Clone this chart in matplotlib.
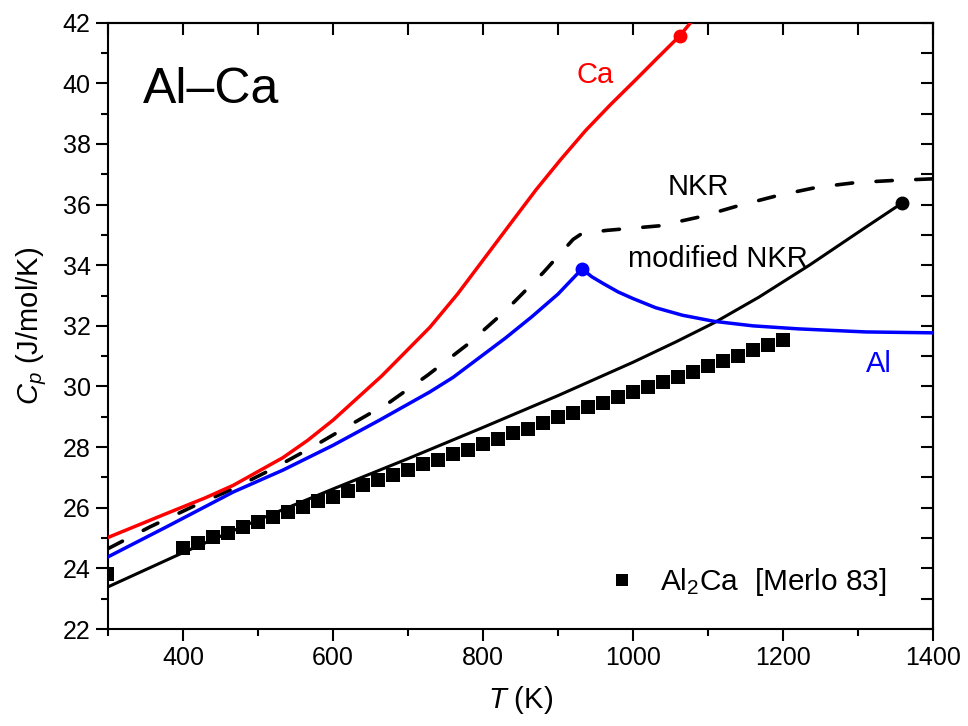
import numpy as np
import matplotlib.pyplot as plt

plt.rcParams['font.family'] = ['Liberation Sans', 'DejaVu Sans']
plt.rcParams['mathtext.fontset'] = 'custom'
plt.rcParams['mathtext.rm'] = 'Liberation Sans'
plt.rcParams['mathtext.it'] = 'Liberation Sans:italic'

# Ca
T_ca = [300, 378, 430, 467, 533, 566, 600, 665, 729, 766, 804, 838, 871, 904, 937, 970,
        1004, 1033, 1062, 1080]
cp_ca = [25.02, 25.81, 26.33, 26.74, 27.65, 28.22, 28.89, 30.35, 31.95, 33.05, 34.3, 35.42,
         36.5, 37.5, 38.45, 39.3, 40.13, 40.85, 41.56, 42.1]

# Al
T_al = [300, 378, 467, 533, 600, 662, 729, 760, 795, 830, 865, 900, 932, 945, 960, 980,
        1000, 1030, 1066, 1108, 1160, 1221, 1310, 1400]
cp_al = [24.38, 25.37, 26.52, 27.24, 28.06, 28.89, 29.82, 30.3, 30.95, 31.6, 32.3, 33.05,
         33.88, 33.62, 33.4, 33.12, 32.9, 32.6, 32.35, 32.15, 32.0, 31.9, 31.8, 31.77]

# NKR (dashed)
T_nkr = [300, 356, 414, 467, 520, 573, 622, 676, 726, 780, 830, 880, 920, 932, 965, 1035,
         1090, 1140, 1193, 1245, 1298, 1350, 1400]
cp_nkr = [24.65, 25.37, 26.05, 26.63, 27.29, 28.01, 28.72, 29.49, 30.37, 31.4, 32.5, 33.75,
          34.85, 35.05, 35.15, 35.3, 35.6, 35.96, 36.3, 36.57, 36.73, 36.8, 36.85]

# modified NKR (solid black)
T_mod = [300, 400, 500, 600, 700, 800, 900, 1000, 1057, 1108, 1168, 1235, 1310, 1358]
cp_mod = [23.39, 24.52, 25.6, 26.62, 27.62, 28.65, 29.7, 30.8, 31.47, 32.1, 32.95, 34.0,
          35.25, 36.04]

# Al2Ca [Merlo 83]
T_exp = [298] + list(np.arange(400, 1201, 20))
cp_exp = [23.8,
          24.67, 24.84, 25.02, 25.18, 25.37, 25.53, 25.70, 25.86, 26.03, 26.21,
          26.36, 26.55, 26.74, 26.91, 27.07, 27.24, 27.44, 27.59, 27.77, 27.92,
          28.10, 28.28, 28.45, 28.61, 28.80, 28.98, 29.12, 29.31, 29.46, 29.64,
          29.81, 29.99, 30.15, 30.32, 30.48, 30.67, 30.84, 31.00, 31.20, 31.36,
          31.53]

fig = plt.figure(figsize=(9.68, 7.26), dpi=100)
ax = fig.add_axes([0.1116, 0.1336, 0.8523, 0.8351])

ax.plot(T_mod, cp_mod, color='black', lw=2.2, zorder=2)
ax.plot(T_nkr, cp_nkr, color='black', lw=2.6, dashes=(4.5, 6.5), dash_capstyle='round', zorder=3)
ax.plot(T_al, cp_al, color='#0000ff', lw=2.5, zorder=4)
ax.plot(T_ca, cp_ca, color='#ff0000', lw=2.5, zorder=5)
ax.plot(T_exp, cp_exp, 's', color='black', ms=9.6, mec='black', mew=0, zorder=6,
        label=r'Al$_2$Ca  [Merlo 83]')

# melting points
ax.plot(T_ca[-2], cp_ca[-2], 'o', color='#ff0000', ms=9, zorder=7)
ax.plot(T_al[12], cp_al[12], 'o', color='#0000ff', ms=9, zorder=7)
ax.plot(T_mod[-1], cp_mod[-1], 'o', color='black', ms=9, zorder=7)

ax.text(437, 39.35, 'Al\u2013Ca', fontsize=36, ha='center', va='baseline')
ax.text(949, 40.01, 'Ca', color='#ff0000', fontsize=21, ha='center', va='baseline')
ax.text(1087, 36.31, 'NKR', fontsize=21, ha='center', va='baseline')
ax.text(1113, 33.94, 'modified NKR', fontsize=21, ha='center', va='baseline')
ax.text(1328, 30.47, 'Al', color='#0000ff', fontsize=21, ha='center', va='baseline')

ax.legend(loc='center left', bbox_to_anchor=(0.606, 0.077), frameon=False, fontsize=21.5,
          handlelength=0.95, handletextpad=0.8, borderpad=0, borderaxespad=0, markerscale=0.9)

ax.set_xlim(300, 1400)
ax.set_ylim(22, 42)
ax.set_xticks(np.arange(400, 1401, 200))
ax.set_xticks(np.arange(300, 1401, 100), minor=True)
ax.set_yticks(np.arange(22, 43, 2))
ax.set_yticks(np.arange(22, 43, 1), minor=True)
ax.tick_params(which='major', direction='out', length=8.5, width=1.5, labelsize=18, pad=4)
ax.tick_params(which='minor', direction='out', length=5, width=1.5)
for s in ax.spines.values():
    s.set_linewidth(1.5)

top = ax.secondary_xaxis('top')
top.set_xticks(np.arange(300, 1401, 100))
top.tick_params(direction='in', length=8.5, width=1.5, labeltop=False)
right = ax.secondary_yaxis('right')
right.set_yticks(np.arange(22, 43, 1))
right.tick_params(direction='in', length=8.5, width=1.5, labelright=False)
top.spines['top'].set_linewidth(1.5)
right.spines['right'].set_linewidth(1.5)

ax.set_xlabel(r'$\mathit{T}$ (K)', fontsize=21, labelpad=10)
ax.set_ylabel(r'$\mathit{C}_{\mathit{p}}$ (J/mol/K)', fontsize=21, labelpad=10)

fig.savefig('out.png', dpi=100)
